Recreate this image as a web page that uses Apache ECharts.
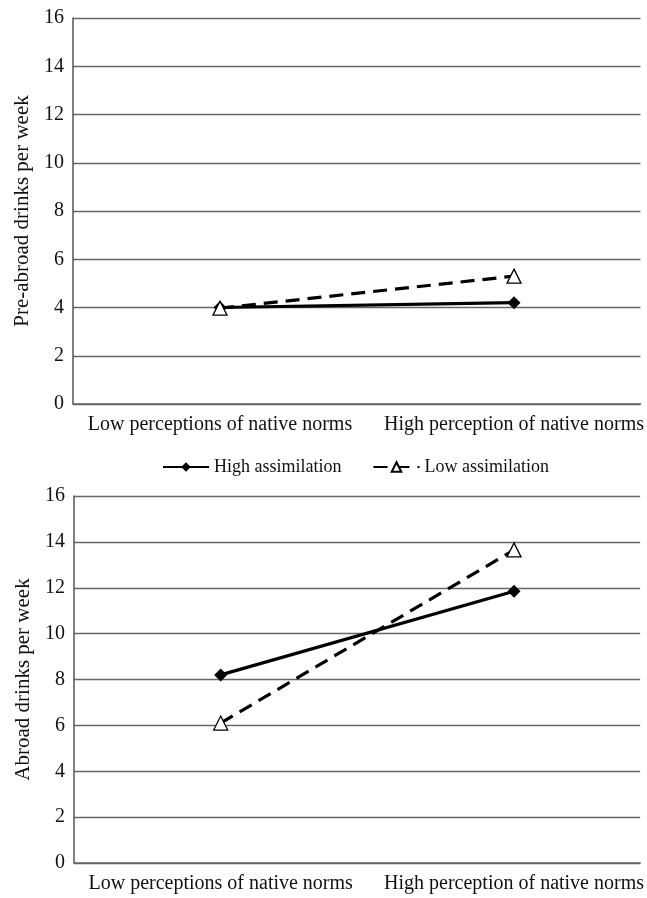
<!DOCTYPE html>
<html>
<head>
<meta charset="utf-8">
<script src="https://cdn.jsdelivr.net/npm/echarts@6/dist/echarts.min.js"></script>
<style>
  html, body { margin: 0; padding: 0; background: #fff; }
  #chart { width: 647px; height: 898px; }
</style>
</head>
<body>
<div id="chart"></div>
<script>
const categories = ['Low perceptions of native norms', 'High perception of native norms']
const yTicks = [0, 2, 4, 6, 8, 10, 12, 14, 16]
const seriesNames = ['High assimilation', 'Low assimilation']
// top panel: pre-abroad drinks per week
const preHigh = [4.0, 4.2]
const preLow = [3.97, 5.3]
// bottom panel: abroad drinks per week
const abroadHigh = [8.2, 11.85]
const abroadLow = [6.1, 13.65]

const font = 'Liberation Serif'
const toPoints = vals => vals.map((v, i) => [i, v])

const xAxisFor = gridIndex => ({
  type: 'value',
  gridIndex,
  min: -0.5,
  max: 1.43,
  axisLine: { show: true, onZero: false, lineStyle: { color: '#666', width: 1.5 } },
  axisTick: { show: false },
  splitLine: { show: false },
  axisLabel: {
    customValues: [0, 1],
    formatter: v => categories[Math.round(v)],
    fontFamily: font,
    fontSize: 20,
    color: '#111',
    margin: 11
  }
})

const yAxisFor = (gridIndex, name) => ({
  type: 'value',
  gridIndex,
  min: yTicks[0],
  max: yTicks[yTicks.length - 1],
  interval: 2,
  name,
  nameLocation: 'middle',
  nameGap: 39,
  nameTextStyle: { fontFamily: font, fontSize: 21, color: '#111' },
  axisLine: { show: true, onZero: false, lineStyle: { color: '#555', width: 1.5 } },
  axisTick: { show: false },
  splitLine: { show: true, lineStyle: { color: '#666', width: 1.3 } },
  axisLabel: { fontFamily: font, fontSize: 20, color: '#111', margin: 9 }
})

const highStyle = {
  symbol: 'diamond',
  symbolSize: 13,
  z: 2,
  itemStyle: { color: '#000' },
  lineStyle: { color: '#000', width: 3.2, type: 'solid' }
}
const lowStyle = {
  symbol: 'triangle',
  symbolSize: 14,
  z: 3,
  itemStyle: { color: '#fff', borderColor: '#000', borderWidth: 1.3 },
  lineStyle: { color: '#000', width: 3.2, type: [14, 8] }
}

const makeSeries = (name, data, idx, style) => Object.assign({
  name,
  type: 'line',
  xAxisIndex: idx,
  yAxisIndex: idx,
  data: toPoints(data),
  showAllSymbol: true,
  animation: false
}, style)

const chart = echarts.init(document.getElementById('chart'), null, { renderer: 'canvas' })
chart.setOption({
  backgroundColor: '#fff',
  animation: false,
  grid: [
    { left: 73, right: 6, top: 18, height: 386 },
    { left: 74, right: 6, top: 496, height: 367 }
  ],
  legend: {
    data: seriesNames,
    left: 157,
    top: 453,
    itemGap: 31,
    itemWidth: 46,
    itemHeight: 12,
    textStyle: { fontFamily: font, fontSize: 18, color: '#111' }
  },
  xAxis: [xAxisFor(0), xAxisFor(1)],
  yAxis: [yAxisFor(0, 'Pre-abroad drinks per week'), yAxisFor(1, 'Abroad drinks per week')],
  series: [
    makeSeries(seriesNames[0], preHigh, 0, highStyle),
    makeSeries(seriesNames[1], preLow, 0, lowStyle),
    makeSeries(seriesNames[0], abroadHigh, 1, highStyle),
    makeSeries(seriesNames[1], abroadLow, 1, lowStyle)
  ]
})
</script>
</body>
</html>
